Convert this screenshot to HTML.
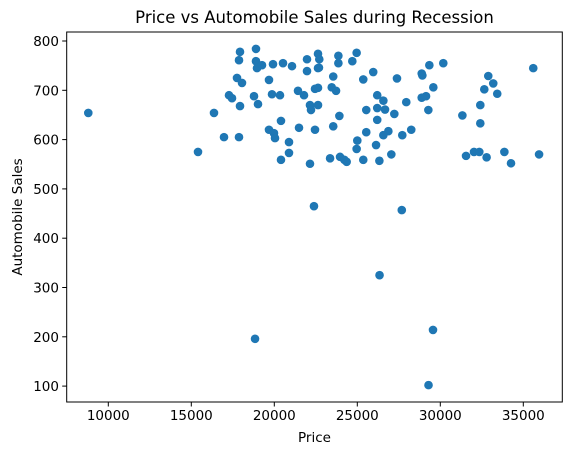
<!DOCTYPE html>
<html><head><meta charset="utf-8"><style>
body{margin:0;background:#fff;}
svg text{font-family:"DejaVu Sans","Liberation Sans",sans-serif;fill:#000;}
</style></head><body>
<svg id="chart" width="571" height="455" xmlns="http://www.w3.org/2000/svg">
<rect width="571" height="455" fill="#fff"/>
<text x="314.5" y="23" font-size="16.5" text-anchor="middle">Price vs Automobile Sales during Recession</text>
<g id="ticks"></g>
<g id="points"></g>
<rect x="66.7" y="32" width="495.6" height="370" fill="none" stroke="#000" stroke-width="1"/>
<text x="314.5" y="442" font-size="13.5" text-anchor="middle">Price</text>
<text transform="translate(22,217) rotate(-90)" font-size="13.5" text-anchor="middle">Automobile Sales</text>
</svg>
<script>
const prices = [8795,16367,15404,16970,17873,17934,17873,18897,18897,18958,19259,19922,20524,21066,21970,21970,22633,22633,17753,18054,19680,17271,17452,17934,18777,19018,19861,20343,20403,19680,19981,20042,20885,20885,20403,21488,21427,21789,22452,22633,22150,22211,22633,22452,22150,
22710,22690,23860,23860,24700,24960,23550,25360,25960,27390,28880,28920,29340,30180,35600,32890,33190,32650,33430,29580,23460,23720,26200,26570,26200,26670,25540,27230,27950,28880,29140,29280,31330,32410,32410,23920,23550,26200,25540,26870,26570,27710,28250,25000,24960,26130,23360,23960,24220,24360,25360,26330,27050,31550,32030,32350,32790,33860,34260,35950,
22390,27680,26340,18840,29560,29290];
const sales = [654,654,575,605,605,778,761,784,759,745,751,753,755,749,763,739,774,745,725,715,721,690,684,668,688,672,692,690,638,620,613,603,595,573,559,624,699,690,703,705,670,660,670,620,551,
763,746,770,755,759,776,728,722,737,724,734,730,751,755,745,729,714,702,693,706,706,699,690,679,664,661,660,652,676,685,688,660,649,670,633,648,627,640,615,617,609,609,620,598,581,589,562,565,559,555,559,557,570,567,575,575,564,575,552,570,
465,457,325,196,214,102];
const xTicks = [10000,15000,20000,25000,30000,35000];
const yTicks = [100,200,300,400,500,600,700,800];
const NS="http://www.w3.org/2000/svg";
function xs(v){return 108.3+(v-10000)*0.0166;}
function ys(v){return 41+(800-v)*0.493;}
const tg=document.getElementById('ticks');
xTicks.forEach(t=>{
  const l=document.createElementNS(NS,'line');
  l.setAttribute('x1',xs(t));l.setAttribute('x2',xs(t));l.setAttribute('y1',402);l.setAttribute('y2',406.5);
  l.setAttribute('stroke','#000');
  
  
  tg.appendChild(l);
  const tx=document.createElementNS(NS,'text');
  tx.setAttribute('x',xs(t));tx.setAttribute('y',420);tx.setAttribute('font-size','13.5');tx.setAttribute('text-anchor','middle');
  tx.textContent=t;
  
  
  tg.appendChild(tx);
});
yTicks.forEach(t=>{
  const l=document.createElementNS(NS,'line');
  l.setAttribute('x1',62.2);l.setAttribute('x2',66.7);l.setAttribute('y1',ys(t));l.setAttribute('y2',ys(t));
  l.setAttribute('stroke','#000');
  
  
  tg.appendChild(l);
  const tx=document.createElementNS(NS,'text');
  tx.setAttribute('x',59);tx.setAttribute('y',ys(t)+5);tx.setAttribute('font-size','13.5');tx.setAttribute('text-anchor','end');
  tx.textContent=t;
  
  
  tg.appendChild(tx);
});
const pg=document.getElementById('points');
prices.forEach((p,i)=>{
  const c=document.createElementNS(NS,'circle');
  c.setAttribute('cx',xs(p));c.setAttribute('cy',ys(sales[i]));c.setAttribute('r',4.3);
  c.setAttribute('fill','#1f77b4');
  
  
  pg.appendChild(c);
});
</script>
</body></html>
